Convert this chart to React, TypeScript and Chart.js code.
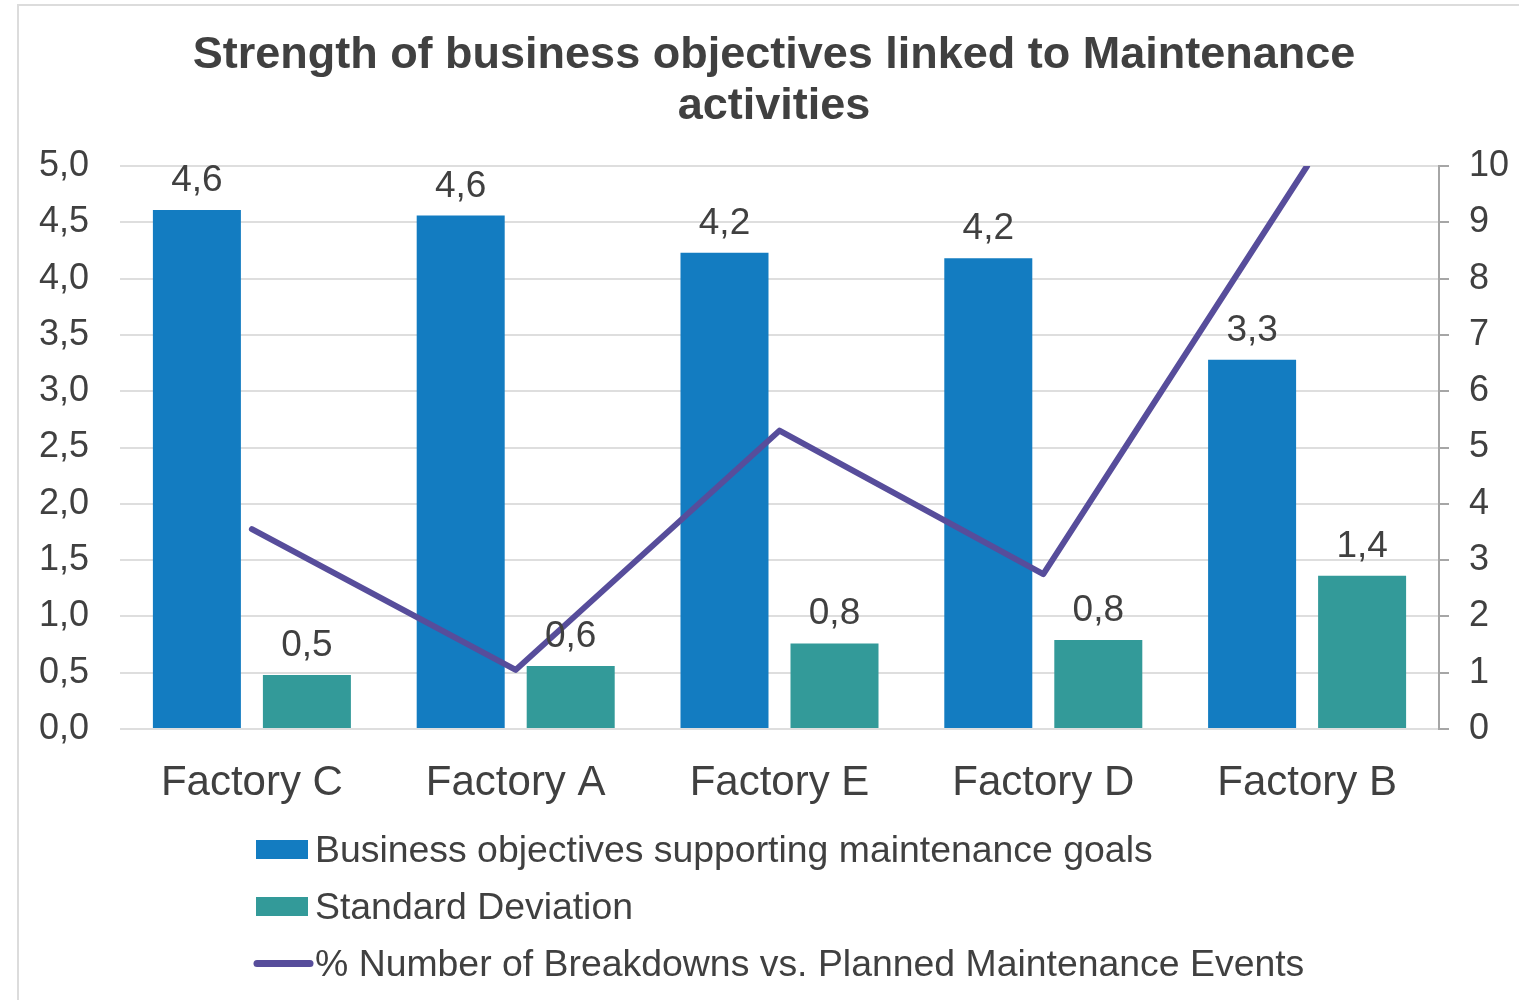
import React, { useEffect, useRef } from "react";
import { Chart, registerables } from "chart.js";

Chart.register(...registerables);

const categories = ["Factory C", "Factory A", "Factory E", "Factory D", "Factory B"];
const businessObjectives = [4.61, 4.56, 4.23, 4.18, 3.28];
const standardDeviation = [0.48, 0.56, 0.76, 0.79, 1.36];
const breakdownPct = [3.55, 1.05, 5.3, 2.75, 10.0];

const leftAxisMin = 0;
const leftAxisMax = 5;
const leftAxisStep = 0.5;
const rightAxisMin = 0;
const rightAxisMax = 10;
const rightAxisStep = 1;

const titleLines = ["Strength of business objectives linked to Maintenance", "activities"];
const seriesNames = [
  "Business objectives supporting maintenance goals",
  "Standard Deviation",
  "% Number of Breakdowns vs. Planned Maintenance Events",
];

const BLUE = "#137CC1";
const TEAL = "#339A99";
const PURPLE = "#574D9B";
const TEXT = "#404040";
const FONT = "'Liberation Sans', Arial, sans-serif";

const fmt = (v: number, d = 1) => v.toFixed(d).replace(".", ",");

const decorPlugin = {
  id: "decor",
  beforeDraw(chart: any) {
    const ctx = chart.ctx;
    ctx.save();
    ctx.fillStyle = "#ffffff";
    ctx.fillRect(0, 0, chart.width, chart.height);
    ctx.strokeStyle = "#dcdcdc";
    ctx.lineWidth = 2;
    ctx.beginPath();
    ctx.moveTo(18, chart.height);
    ctx.lineTo(18, 5);
    ctx.lineTo(chart.width, 5);
    ctx.stroke();
    ctx.restore();
  },
  afterDatasetsDraw(chart: any) {
    const ctx = chart.ctx;
    ctx.save();
    ctx.fillStyle = TEXT;
    ctx.font = `37px ${FONT}`;
    ctx.textAlign = "center";
    ctx.textBaseline = "alphabetic";
    [0, 1].forEach((di) => {
      const meta = chart.getDatasetMeta(di);
      const vals = chart.data.datasets[di].data as number[];
      meta.data.forEach((el: any, j: number) => {
        ctx.fillText(fmt(vals[j]), el.x, el.y - 19);
      });
    });
    ctx.restore();
  },
  afterDraw(chart: any) {
    const ctx = chart.ctx;
    ctx.save();
    // title
    ctx.fillStyle = TEXT;
    ctx.font = `bold 45px ${FONT}`;
    ctx.textAlign = "center";
    ctx.textBaseline = "alphabetic";
    ctx.fillText(titleLines[0], 774, 68);
    ctx.fillText(titleLines[1], 774, 119);
    // legend
    ctx.font = `37.4px ${FONT}`;
    ctx.textAlign = "left";
    const baselines = [862, 919, 976];
    ctx.fillStyle = BLUE;
    ctx.fillRect(256, 840, 52, 19);
    ctx.fillStyle = TEAL;
    ctx.fillRect(256, 897, 52, 19);
    ctx.strokeStyle = PURPLE;
    ctx.lineWidth = 7;
    ctx.lineCap = "round";
    ctx.beginPath();
    ctx.moveTo(257, 963.5);
    ctx.lineTo(310, 963.5);
    ctx.stroke();
    ctx.fillStyle = TEXT;
    seriesNames.forEach((n, i) => ctx.fillText(n, 315, baselines[i]));
    ctx.restore();
  },
};

export default function App() {
  const ref = useRef<HTMLCanvasElement>(null);
  useEffect(() => {
    if (!ref.current) return;
    const chart = new Chart(ref.current, {
      type: "bar",
      data: {
        labels: categories,
        datasets: [
          {
            type: "bar",
            label: seriesNames[0],
            data: businessObjectives,
            backgroundColor: BLUE,
            yAxisID: "y",
            order: 1,
            categoryPercentage: 0.834,
            barPercentage: 0.8,
          },
          {
            type: "bar",
            label: seriesNames[1],
            data: standardDeviation,
            backgroundColor: TEAL,
            yAxisID: "y",
            order: 2,
            categoryPercentage: 0.834,
            barPercentage: 0.8,
          },
          {
            type: "line",
            label: seriesNames[2],
            data: breakdownPct,
            borderColor: PURPLE,
            backgroundColor: PURPLE,
            borderWidth: 6,
            pointRadius: 0,
            tension: 0,
            borderCapStyle: "round",
            borderJoinStyle: "round",
            yAxisID: "y1",
            order: 0,
            clip: 0,
          } as any,
        ],
      },
      options: {
        responsive: false,
        animation: false,
        devicePixelRatio: 1,
        events: [],
        layout: { padding: { top: 166, bottom: 171, left: 0, right: 0 } },
        plugins: {
          legend: { display: false },
          title: { display: false },
          tooltip: { enabled: false },
        },
        scales: {
          x: {
            grid: { display: false },
            border: { display: false },
            ticks: {
              color: TEXT,
              font: { family: FONT, size: 42 },
              padding: 21,
              maxRotation: 0,
              autoSkip: false,
            },
            afterFit: (s: any) => {
              s.height = 100;
            },
          },
          y: {
            position: "left",
            min: leftAxisMin,
            max: leftAxisMax,
            grid: { color: "#dedede", lineWidth: 2, drawTicks: false },
            border: { display: false },
            ticks: {
              stepSize: leftAxisStep,
              color: TEXT,
              font: { family: FONT, size: 36 },
              padding: 31,
              callback: (v: any) => fmt(Number(v)),
            },
            afterFit: (s: any) => {
              s.width = 120;
            },
          },
          y1: {
            position: "right",
            min: rightAxisMin,
            max: rightAxisMax,
            grid: {
              drawOnChartArea: false,
              drawTicks: true,
              tickLength: 10,
              color: "#a6a6a6",
              lineWidth: 2,
            },
            border: { display: true, color: "#a6a6a6", width: 2 },
            ticks: {
              stepSize: rightAxisStep,
              color: TEXT,
              font: { family: FONT, size: 36 },
              padding: 20,
              callback: (v: any) => String(v),
            },
            afterFit: (s: any) => {
              s.width = 80;
            },
          },
        },
      } as any,
      plugins: [decorPlugin],
    });
    return () => chart.destroy();
  }, []);
  return (
    <div style={{ position: "fixed", left: 0, top: 0, width: 1519, height: 1000, background: "#fff" }}>
      <canvas ref={ref} width={1519} height={1000} style={{ width: 1519, height: 1000, display: "block" }} />
    </div>
  );
}
